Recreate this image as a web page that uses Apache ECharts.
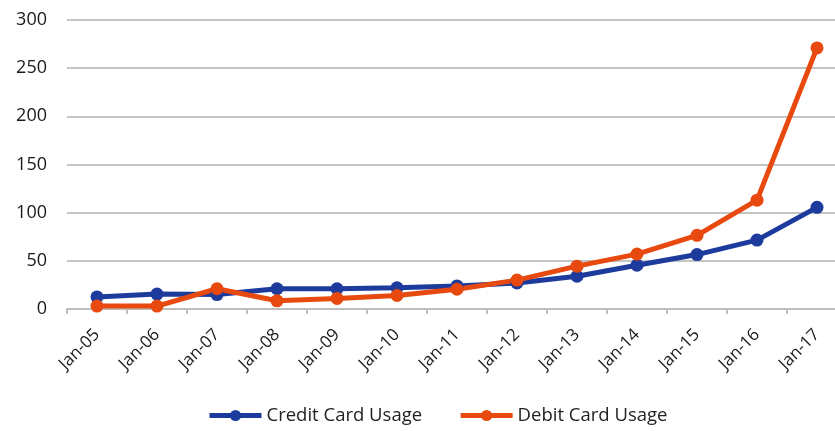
<!DOCTYPE html>
<html>
<head>
<meta charset="utf-8">
<script src="https://cdn.jsdelivr.net/npm/echarts@6/dist/echarts.min.js"></script>
<style>
  html, body { margin: 0; padding: 0; background: #ffffff; }
  #chart { width: 835px; height: 431px; }
</style>
</head>
<body>
<div id="chart"></div>
<script>
// Yearly usage index, January of each year
const categories = ['Jan-05', 'Jan-06', 'Jan-07', 'Jan-08', 'Jan-09', 'Jan-10', 'Jan-11',
                    'Jan-12', 'Jan-13', 'Jan-14', 'Jan-15', 'Jan-16', 'Jan-17'];
const creditUsage = [12.5, 15.5, 15, 21, 21, 22, 24, 27, 34, 45.5, 56.5, 71.5, 105.5];
const debitUsage = [3, 3, 21, 8.5, 11, 14, 20.5, 30, 44.5, 57, 76.5, 113, 271];
const yTicks = [0, 50, 100, 150, 200, 250, 300];

const FONT = '"Open Sans", "Noto Sans", sans-serif';
const BLUE = '#1c3b9c';
const ORANGE = '#e8490f';

const chart = echarts.init(document.getElementById('chart'), null, { renderer: 'canvas' });

function lineSeries(name, data, color) {
  return {
    name: name,
    type: 'line',
    data: data,
    symbol: 'circle',
    symbolSize: 13,
    lineStyle: { color: color, width: 5 },
    itemStyle: { color: color },
    animation: false
  };
}

chart.setOption({
  backgroundColor: '#ffffff',
  grid: {
    left: 67, top: 20, bottom: 122, width: 780,
    containLabel: false,
    outerBoundsMode: 'none'
  },
  xAxis: {
    type: 'category',
    data: categories,
    boundaryGap: true,
    axisLine: { lineStyle: { color: '#bdbdbd', width: 2 } },
    axisTick: { show: true, length: 5, lineStyle: { color: '#bdbdbd', width: 2 } },
    axisLabel: {
      rotate: 45,
      interval: 0,
      margin: 23,
      color: '#1a1a1a',
      fontFamily: FONT,
      fontSize: 17
    }
  },
  yAxis: {
    type: 'value',
    min: yTicks[0],
    max: yTicks[yTicks.length - 1],
    interval: yTicks[1] - yTicks[0],
    axisLine: { show: false },
    axisTick: { show: false },
    splitLine: { lineStyle: { color: '#c4c4c4', width: 2 } },
    axisLabel: {
      margin: 20,
      color: '#1a1a1a',
      fontFamily: FONT,
      fontSize: 18
    }
  },
  legend: {
    bottom: 1,
    left: 202,
    itemWidth: 52,
    itemHeight: 14,
    itemGap: 36,
    lineStyle: { width: 5 },
    textStyle: { color: '#222', fontFamily: FONT, fontSize: 18.5 },
    data: ['Credit Card Usage', 'Debit Card Usage']
  },
  series: [
    lineSeries('Credit Card Usage', creditUsage, BLUE),
    lineSeries('Debit Card Usage', debitUsage, ORANGE)
  ]
});
</script>
</body>
</html>
